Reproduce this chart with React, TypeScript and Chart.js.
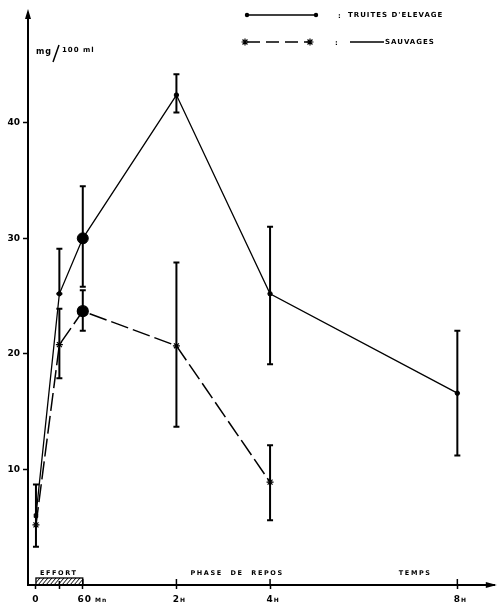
import React, { useEffect, useRef } from "react";
import { Chart, registerables } from "chart.js";

Chart.register(...registerables);

// ---- data (time in hours from start of effort; rest phase starts at 1 h) ----
const TIMES_ELEVAGE = [0, 0.5, 1, 3, 5, 9];
const ELEVAGE = [6.0, 25.2, 30.0, 42.4, 25.2, 16.6];
const ELEVAGE_LOW = [3.3, 25.2, 25.8, 40.9, 19.1, 11.2];
const ELEVAGE_HIGH = [8.7, 29.1, 34.5, 44.2, 31.0, 22.0];

const TIMES_SAUVAGE = [0, 0.5, 1, 3, 5];
const SAUVAGE = [5.2, 20.8, 23.7, 20.7, 8.9];
const SAUVAGE_LOW = [5.2, 17.9, 22.0, 13.7, 5.6];
const SAUVAGE_HIGH = [5.2, 23.9, 25.5, 27.9, 12.1];

const Y_TICKS = [10, 20, 30, 40];
const X_TICKS = [0, 0.5, 1, 3, 5, 9];
const X_TICK_MAIN = ["0", "", "60", "2", "4", "8"];
const X_TICK_UNIT = ["", "", "Mn", "H", "H", "H"];

const LEGEND_ELEVAGE = "TRUITES D'ELEVAGE";
const LEGEND_SAUVAGE = "SAUVAGES";
const Y_TITLE_A = "mg";
const Y_TITLE_B = "100 ml";
const PHASES = [
  { label: "EFFORT", from: 0, to: 1, hatched: true },
  { label: "PHASE  DE  REPOS", from: 3.3, to: 5.3, hatched: false },
  { label: "TEMPS", from: 7.75, to: 8.4, hatched: false },
];

const FONT = '"DejaVu Sans", sans-serif';

function drawStar(ctx: CanvasRenderingContext2D, x: number, y: number, r: number) {
  ctx.beginPath();
  for (let i = 0; i < 4; i++) {
    const a = (i * Math.PI) / 4;
    ctx.moveTo(x - Math.cos(a) * r, y - Math.sin(a) * r);
    ctx.lineTo(x + Math.cos(a) * r, y + Math.sin(a) * r);
  }
  ctx.stroke();
}

const errorBarPlugin = {
  id: "errorBars",
  afterDatasetsDraw(chart: any) {
    const ctx = chart.ctx as CanvasRenderingContext2D;
    const xs = chart.scales.x;
    const ys = chart.scales.y;
    const sets = [
      { t: TIMES_ELEVAGE, lo: ELEVAGE_LOW, hi: ELEVAGE_HIGH },
      { t: TIMES_SAUVAGE, lo: SAUVAGE_LOW, hi: SAUVAGE_HIGH },
    ];
    ctx.save();
    ctx.strokeStyle = "#000";
    ctx.lineWidth = 2;
    for (const s of sets) {
      s.t.forEach((t, i) => {
        if (s.hi[i] === s.lo[i]) return;
        const x = xs.getPixelForValue(t);
        const y1 = ys.getPixelForValue(s.hi[i]);
        const y2 = ys.getPixelForValue(s.lo[i]);
        ctx.beginPath();
        ctx.moveTo(x, y1);
        ctx.lineTo(x, y2);
        ctx.moveTo(x - 3, y1);
        ctx.lineTo(x + 3, y1);
        ctx.moveTo(x - 3, y2);
        ctx.lineTo(x + 3, y2);
        ctx.stroke();
      });
    }
    ctx.restore();
  },
};

const decorPlugin = {
  id: "decor",
  afterDraw(chart: any) {
    const ctx = chart.ctx as CanvasRenderingContext2D;
    const xs = chart.scales.x;
    const area = chart.chartArea;
    ctx.save();
    ctx.fillStyle = "#000";
    ctx.strokeStyle = "#000";
    (ctx as any).letterSpacing = "1px";

    // arrowheads
    ctx.beginPath();
    ctx.moveTo(area.left, area.top - 4);
    ctx.lineTo(area.left - 3, area.top + 6);
    ctx.lineTo(area.left + 3, area.top + 6);
    ctx.closePath();
    ctx.fill();
    ctx.beginPath();
    ctx.moveTo(area.right + 2, area.bottom);
    ctx.lineTo(area.right - 9, area.bottom - 3);
    ctx.lineTo(area.right - 9, area.bottom + 3);
    ctx.closePath();
    ctx.fill();

    // x tick marks crossing the axis upward
    ctx.lineWidth = 1.5;
    X_TICKS.forEach((v, i) => {
      if (i === 0) return;
      const x = xs.getPixelForValue(v);
      ctx.beginPath();
      ctx.moveTo(x, area.bottom - (i === 1 ? 4 : 6));
      ctx.lineTo(x, area.bottom);
      ctx.stroke();
    });

    // x tick labels
    ctx.textBaseline = "alphabetic";
    X_TICKS.forEach((v, i) => {
      const main = X_TICK_MAIN[i];
      if (!main) return;
      const x = xs.getPixelForValue(v);
      ctx.font = `bold 9px ${FONT}`;
      const w = ctx.measureText(main).width;
      ctx.textAlign = "left";
      const x0 = x - w / 2 + (X_TICK_UNIT[i] === "Mn" ? 2 : 0);
      ctx.fillText(main, x0, area.bottom + 17);
      if (X_TICK_UNIT[i]) {
        ctx.font = `bold 6px ${FONT}`;
        ctx.fillText(X_TICK_UNIT[i], x0 + w + (X_TICK_UNIT[i] === "Mn" ? 3 : 0), area.bottom + 17);
      }
    });

    // phase labels + hatched effort box
    ctx.font = `bold 6.5px ${FONT}`;
    (ctx as any).letterSpacing = "1.6px";
    ctx.textAlign = "left";
    PHASES.forEach((p) => {
      const x1 = xs.getPixelForValue(p.from);
      const x2 = xs.getPixelForValue(p.to);
      if (p.hatched) {
        ctx.fillText(p.label, x1 + 4, area.bottom - 10);
        const top = area.bottom - 7;
        ctx.lineWidth = 1.3;
        ctx.strokeRect(x1, top, x2 - x1, 7);
        ctx.save();
        ctx.beginPath();
        ctx.rect(x1, top, x2 - x1, 7);
        ctx.clip();
        ctx.lineWidth = 1;
        ctx.beginPath();
        for (let hx = x1 - 10; hx < x2 + 10; hx += 4) {
          ctx.moveTo(hx, area.bottom);
          ctx.lineTo(hx + 6, top);
        }
        ctx.stroke();
        ctx.restore();
      } else {
        ctx.fillText(p.label, x1, area.bottom - 10);
      }
    });
    (ctx as any).letterSpacing = "1px";

    // y title
    ctx.font = `bold 8px ${FONT}`;
    ctx.textAlign = "left";
    ctx.fillText(Y_TITLE_A, 36, 54);
    ctx.lineWidth = 1.5;
    ctx.beginPath();
    ctx.moveTo(53, 62);
    ctx.lineTo(59, 45);
    ctx.stroke();
    ctx.font = `bold 7px ${FONT}`;
    ctx.fillText(Y_TITLE_B, 62, 52);

    // legend
    ctx.lineWidth = 1.3;
    ctx.setLineDash([]);
    ctx.beginPath();
    ctx.moveTo(247, 15);
    ctx.lineTo(316, 15);
    ctx.stroke();
    ctx.beginPath();
    ctx.arc(247, 15, 2.2, 0, Math.PI * 2);
    ctx.arc(316, 15, 2.2, 0, Math.PI * 2);
    ctx.fill();
    ctx.font = `bold 7px ${FONT}`;
    ctx.fillText(":", 338, 18);
    ctx.fillText(LEGEND_ELEVAGE, 348, 17);

    ctx.lineWidth = 1.5;
    ctx.setLineDash([13, 6]);
    ctx.beginPath();
    ctx.moveTo(247, 42);
    ctx.lineTo(310, 42);
    ctx.stroke();
    ctx.setLineDash([]);
    ctx.lineWidth = 1.2;
    drawStar(ctx, 245, 42, 3.5);
    drawStar(ctx, 310, 42, 3.5);
    ctx.lineWidth = 1.3;
    ctx.fillText(":", 335, 45);
    ctx.beginPath();
    ctx.moveTo(350, 42);
    ctx.lineTo(384, 42);
    ctx.stroke();
    ctx.fillText(LEGEND_SAUVAGE, 385, 44);

    ctx.restore();
  },
};

export default function App() {
  const ref = useRef<HTMLCanvasElement | null>(null);

  useEffect(() => {
    if (!ref.current) return;
    const chart = new Chart(ref.current, {
      type: "line",
      data: {
        datasets: [
          {
            label: LEGEND_ELEVAGE,
            data: TIMES_ELEVAGE.map((t, i) => ({ x: t, y: ELEVAGE[i] })),
            borderColor: "#000",
            backgroundColor: "#000",
            borderWidth: 1.3,
            pointStyle: ["rect", "circle", "circle", "circle", "circle", "circle"] as any,
            pointRadius: [2.5, 2.2, 5.5, 2.2, 2.2, 2.2],
            pointBorderWidth: 1,
            tension: 0,
            clip: false as any,
          },
          {
            label: LEGEND_SAUVAGE,
            data: TIMES_SAUVAGE.map((t, i) => ({ x: t, y: SAUVAGE[i] })),
            borderColor: "#000",
            backgroundColor: "#000",
            borderWidth: 1.5,
            borderDash: [18, 5],
            pointStyle: ["star", "star", "circle", "star", "star"] as any,
            pointRadius: [3.5, 3.5, 5.5, 3.5, 3.5],
            pointBorderWidth: 1.2,
            tension: 0,
            clip: false as any,
          },
        ],
      },
      options: {
        animation: false,
        responsive: false,
        devicePixelRatio: 1,
        layout: { padding: { top: 13, right: 3, left: 0, bottom: 0 } },
        plugins: { legend: { display: false }, tooltip: { enabled: false } },
        scales: {
          x: {
            type: "linear",
            min: -0.17,
            max: 9.8,
            afterFit: (s: any) => {
              s.height = 29;
            },
            afterBuildTicks: (s: any) => {
              s.ticks = X_TICKS.map((v) => ({ value: v }));
            },
            ticks: { display: false },
            grid: {
              drawOnChartArea: false,
              drawTicks: true,
              tickLength: 4,
              tickWidth: 1.5,
              color: "#000",
            },
            border: { display: true, width: 2, color: "#000" },
          },
          y: {
            type: "linear",
            min: 0,
            max: 49.5,
            afterFit: (s: any) => {
              s.width = 28;
            },
            afterBuildTicks: (s: any) => {
              s.ticks = Y_TICKS.map((v) => ({ value: v }));
            },
            ticks: {
              color: "#000",
              font: { family: FONT, size: 9, weight: "bold" },
              padding: 3,
            },
            grid: {
              drawOnChartArea: false,
              drawTicks: true,
              tickLength: 5,
              tickWidth: 1.5,
              color: "#000",
            },
            border: { display: true, width: 2, color: "#000" },
          },
        },
      },
      plugins: [errorBarPlugin, decorPlugin],
    });
    return () => chart.destroy();
  }, []);

  return (
    <div style={{ position: "absolute", left: 0, top: 0, width: 500, height: 614, background: "#fff" }}>
      <canvas ref={ref} width={500} height={614} style={{ width: 500, height: 614, display: "block" }} />
    </div>
  );
}
